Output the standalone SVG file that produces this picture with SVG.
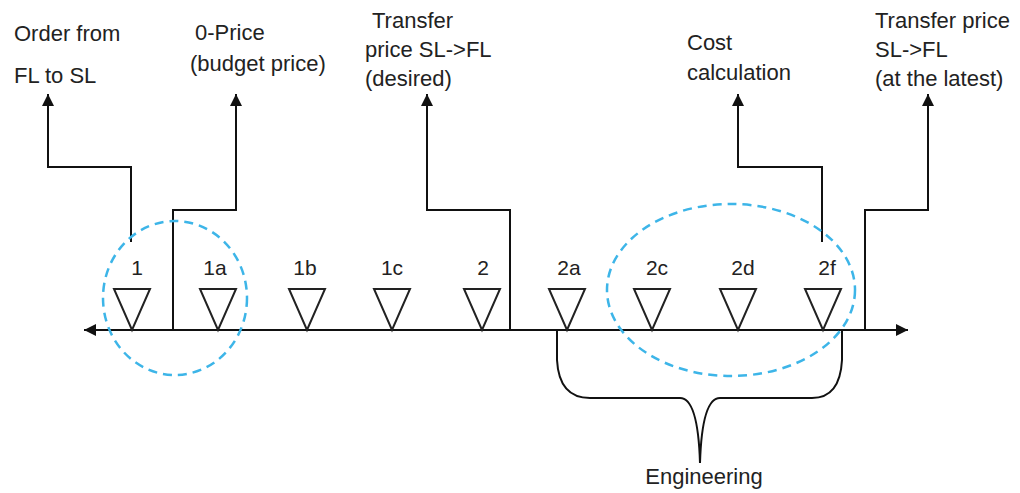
<svg xmlns="http://www.w3.org/2000/svg" width="1020" height="493" viewBox="0 0 1020 493">
<style>
text{font-family:"Liberation Sans",Arial,sans-serif;font-size:22px;fill:#222}
.lbl{font-size:21px;text-anchor:middle}
.ln{fill:none;stroke:#111;stroke-width:2}
.tri{fill:#fff;stroke:#222;stroke-width:2;stroke-linejoin:miter}
.dash{fill:none;stroke:#3db5e8;stroke-width:2.5;stroke-dasharray:9 6}
</style>
<defs>
<marker id="ah" viewBox="0 0 10 10" refX="10" refY="5" markerWidth="6" markerHeight="6" markerUnits="strokeWidth" orient="auto">
<path d="M0,0 L10,5 L0,10 z" fill="#111"/>
</marker>
</defs>
<g id="texts">
<text x="14" y="41">Order from</text>
<text x="14" y="83">FL to SL</text>
<text x="195" y="40">0-Price</text>
<text x="190" y="71">(budget price)</text>
<text x="372" y="28">Transfer</text>
<text x="365" y="57">price SL-&gt;FL</text>
<text x="365" y="86">(desired)</text>
<text x="687" y="50">Cost</text>
<text x="687" y="80">calculation</text>
<text x="875" y="28">Transfer price</text>
<text x="875" y="57">SL-&gt;FL</text>
<text x="875" y="86">(at the latest)</text>
<text x="704" y="484" text-anchor="middle">Engineering</text>
</g>
<g id="connectors">
<line class="ln" x1="130" y1="330" x2="84" y2="330" marker-end="url(#ah)"/>
<line class="ln" x1="130" y1="330" x2="908" y2="330" marker-end="url(#ah)"/>
<path class="ln" d="M131,242 V167 H48 V94" marker-end="url(#ah)"/>
<path class="ln" d="M173,330 V210 H236 V94" marker-end="url(#ah)"/>
<path class="ln" d="M510,330 V210 H427 V94" marker-end="url(#ah)"/>
<path class="ln" d="M822,242 V167 H738 V94" marker-end="url(#ah)"/>
<path class="ln" d="M865,330 V210 H928 V94" marker-end="url(#ah)"/>
<path class="ln" d="M557,330 V360 Q559,398 590,398 H680 Q698,398 700,463 Q702,398 720,398 H812 Q840,398 842,360 V330"/>
</g>
<g id="m1"><polygon class="tri" points="114,289 150,289 132,330"/><text class="lbl" x="137" y="275">1</text></g>
<g id="m1a"><polygon class="tri" points="200,289 236,289 218,330"/><text class="lbl" x="215" y="275">1a</text></g>
<g id="m1b"><polygon class="tri" points="289,289 325,289 307,330"/><text class="lbl" x="305" y="275">1b</text></g>
<g id="m1c"><polygon class="tri" points="374,289 410,289 392,330"/><text class="lbl" x="392" y="275">1c</text></g>
<g id="m2"><polygon class="tri" points="464,289 500,289 482,330"/><text class="lbl" x="483" y="275">2</text></g>
<g id="m2a"><polygon class="tri" points="549,289 585,289 567,330"/><text class="lbl" x="569" y="275">2a</text></g>
<g id="m2c"><polygon class="tri" points="634,289 670,289 652,330"/><text class="lbl" x="657" y="275">2c</text></g>
<g id="m2d"><polygon class="tri" points="720,289 756,289 738,330"/><text class="lbl" x="743" y="275">2d</text></g>
<g id="m2f"><polygon class="tri" points="805,289 841,289 823,330"/><text class="lbl" x="827" y="275">2f</text></g>
<g id="groups">
<ellipse class="dash" cx="175" cy="298" rx="72" ry="77"/>
<ellipse class="dash" cx="731" cy="290" rx="124" ry="86"/>
</g>
</svg>
